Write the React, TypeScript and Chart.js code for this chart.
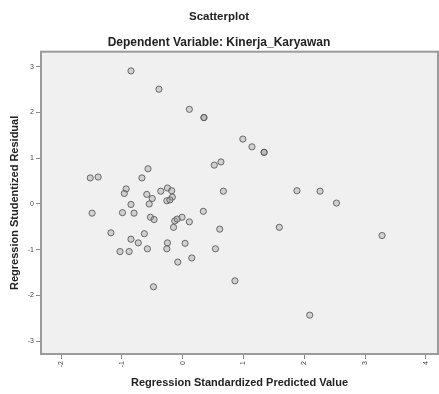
import React, { useEffect, useRef } from "react";
import { Chart, registerables } from "chart.js";

Chart.register(...registerables);

const titleText = "Scatterplot";
const subtitleText = "Dependent Variable: Kinerja_Karyawan";
const xTitle = "Regression Standardized Predicted Value";
const yTitle = "Regression Studentized Residual";

const xTicks = [-2, -1, 0, 1, 2, 3, 4];
const yTicks = [-3, -2, -1, 0, 1, 2, 3];

const predicted = [
  -0.85, -0.39, 0.11, 0.35, 0.35, 0.99, 1.14, 1.34, 1.34, 0.52, 0.63, -0.57, -0.67,
  -1.52, -1.39, 0.67, 1.88, 2.26, 2.53, 0.34, 0.61, 1.59, 0.54, 3.28, 0.86, 2.09,
  -0.93, -0.96, -0.59, -0.5, -0.55, -0.36, -0.25, -0.18, -0.17, -0.26, -0.21,
  -0.85, -1.49, -0.99, -0.8, -0.53, -0.47, -0.13, -0.09, -0.01, -0.15, 0.11,
  -1.18, -0.63, -0.85, -0.73, -1.03, -0.88, -0.58, -0.25, -0.26, 0.04, -0.08,
  0.15, -0.48,
];
const residual = [
  2.91, 2.51, 2.07, 1.89, 1.89, 1.42, 1.25, 1.13, 1.13, 0.85, 0.92, 0.77, 0.57,
  0.57, 0.59, 0.28, 0.29, 0.28, 0.02, -0.16, -0.55, -0.51, -0.98, -0.69, -1.68, -2.43,
  0.33, 0.23, 0.21, 0.12, 0.0, 0.28, 0.35, 0.29, 0.15, 0.07, 0.09,
  -0.01, -0.2, -0.19, -0.2, -0.29, -0.34, -0.37, -0.33, -0.29, -0.51, -0.39,
  -0.63, -0.65, -0.77, -0.85, -1.04, -1.04, -0.98, -0.85, -0.98, -0.86, -1.27,
  -1.18, -1.81,
];

const FONT = "'Liberation Sans', Arial, sans-serif";

const plotFrame = {
  id: "plotFrame",
  beforeDatasetsDraw(chart: any) {
    const { ctx, chartArea: a } = chart;
    ctx.save();
    ctx.fillStyle = "#f0f0f0";
    ctx.fillRect(a.left, a.top, a.right - a.left, a.bottom - a.top);
    ctx.restore();
  },
  afterDraw(chart: any) {
    const { ctx, chartArea: a } = chart;
    ctx.save();
    ctx.strokeStyle = "#9a9a9a";
    ctx.lineWidth = 2;
    ctx.strokeRect(a.left, a.top, a.right - a.left, a.bottom - a.top);
    ctx.restore();
  },
};

export default function App() {
  const ref = useRef<HTMLCanvasElement | null>(null);
  useEffect(() => {
    if (!ref.current) return;
    const points = predicted.map((x, i) => ({ x, y: residual[i] }));
    const chart = new Chart(ref.current, {
      type: "scatter",
      data: {
        datasets: [
          {
            data: points,
            pointRadius: 3.1,
            pointBorderWidth: 1,
            borderColor: "rgba(85,85,85,0.85)",
            backgroundColor: "rgba(160,160,160,0.4)",
          },
        ],
      },
      options: {
        responsive: false,
        animation: false,
        layout: { autoPadding: false, padding: { left: 0, right: 1, top: 0, bottom: 0 } },
        plugins: {
          legend: { display: false },
          tooltip: { enabled: false },
          title: {
            display: true,
            text: titleText,
            color: "#222",
            font: { family: FONT, size: 11.5, weight: "bold", lineHeight: 1.2 },
            padding: { top: 10, bottom: 4 },
          },
          subtitle: {
            display: true,
            text: subtitleText,
            color: "#222",
            font: { family: FONT, size: 12, weight: "bold", lineHeight: 1.2 },
            padding: { top: 8, bottom: 1.5 },
          },
        },
        scales: {
          x: {
            type: "linear",
            min: -2.33,
            max: 4.2,
            afterBuildTicks: (s: any) => {
              s.ticks = xTicks.map((v) => ({ value: v }));
            },
            afterFit: (s: any) => {
              s.height = 40;
              s.paddingLeft = 0;
              s.paddingRight = 0;
            },
            grid: { drawOnChartArea: false, drawTicks: true, tickLength: 5, color: "#888" },
            border: { display: false },
            ticks: {
              minRotation: 90,
              maxRotation: 90,
              padding: 2,
              color: "#444",
              font: { family: FONT, size: 7 },
            },
            title: {
              display: true,
              text: xTitle,
              color: "#222",
              font: { family: FONT, size: 11, weight: "bold", lineHeight: 1.2 },
              padding: { top: 0, bottom: 4.4 },
            },
          },
          y: {
            type: "linear",
            min: -3.28,
            max: 3.33,
            afterBuildTicks: (s: any) => {
              s.ticks = yTicks.map((v) => ({ value: v }));
            },
            afterFit: (s: any) => {
              s.width = 41;
              s.paddingTop = 0;
              s.paddingBottom = 0;
            },
            grid: { drawOnChartArea: false, drawTicks: true, tickLength: 5, color: "#888" },
            border: { display: false },
            ticks: {
              padding: 2,
              color: "#444",
              font: { family: FONT, size: 7 },
            },
            title: {
              display: true,
              text: yTitle,
              color: "#222",
              font: { family: FONT, size: 11, weight: "bold", lineHeight: 1.2 },
              padding: { top: 8.4, bottom: 0 },
            },
          },
        },
      },
      plugins: [plotFrame],
    });
    return () => chart.destroy();
  }, []);
  return (
    <div style={{ position: "absolute", left: 0, top: 0, width: 439, height: 394, background: "#fff" }}>
      <canvas ref={ref} width={439} height={394} style={{ display: "block" }} />
    </div>
  );
}
